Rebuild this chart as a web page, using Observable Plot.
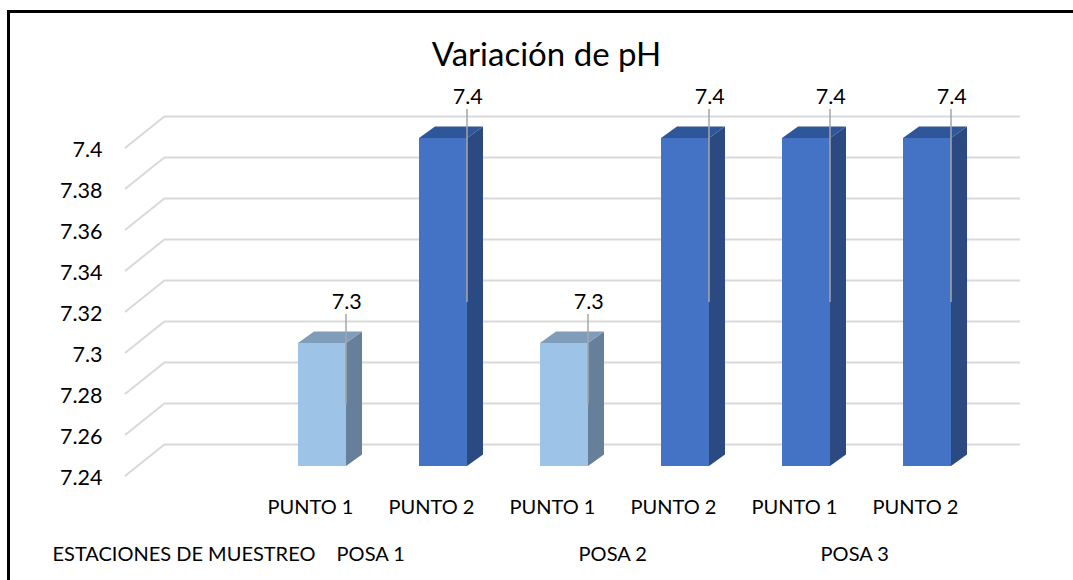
<!DOCTYPE html>
<html>
<head>
<meta charset="utf-8">
<script src="https://cdn.jsdelivr.net/npm/d3@7"></script>
<script src="https://cdn.jsdelivr.net/npm/@observablehq/plot@0.6"></script>
<style>
  html, body { margin: 0; padding: 0; background: #fff; }
  #wrap { position: relative; width: 1073px; height: 580px; overflow: hidden; background: #fff; }
  #border { position: absolute; left: 7px; top: 10px; right: -10px; bottom: -10px;
            border-left: 3px solid #000; border-top: 3px solid #000; pointer-events: none; }
  #chart svg { display: block; }
</style>
</head>
<body>
<div id="wrap">
  <div id="chart"></div>
  <div id="border"></div>
</div>
<script>
// ---------- data ----------
const title = "Variación de pH";
const axisTitle = "ESTACIONES DE MUESTREO";
const stations = ["POSA 1", "POSA 1", "POSA 2", "POSA 2", "POSA 3", "POSA 3"];
const points = ["PUNTO 1", "PUNTO 2", "PUNTO 1", "PUNTO 2", "PUNTO 1", "PUNTO 2"];
const phValues = [7.3, 7.4, 7.3, 7.4, 7.4, 7.4];
const groupLabels = ["POSA 1", "POSA 2", "POSA 3"];
const yTicks = [7.24, 7.26, 7.28, 7.30, 7.32, 7.34, 7.36, 7.38, 7.40];
const yTickLabels = ["7.24", "7.26", "7.28", "7.3", "7.32", "7.34", "7.36", "7.38", "7.4"];
const yDomain = [7.24, 7.4];

// ---------- table built from the arrays ----------
const keys = stations.map((s, i) => s + " · " + points[i]);
const bars = keys.map((k, i) => ({key: k, station: stations[i], point: points[i], value: phValues[i]}));
const groups = groupLabels.map(g => ({label: g, keys: keys.filter((k, i) => stations[i] === g)}));

// ---------- layout / style ----------
const W = 1073, H = 580;
const mL = 165, mR = 53, mT = 116, mB = 136;
const xRange = [235.2, 1013.4], padIn = 0.6, padOut = 0.5;
const step = (xRange[1] - xRange[0]) / (keys.length - padIn + 2 * padOut);
const bwidth = step * (1 - padIn);
const FRONT = 22;          // bar front plane offset below back wall (px)
const DX = 16, DY = 11.5;  // bar depth
const FLOOR_DX = 40, FLOOR_DY = 32; // wall depth
const light = {front: "#9dc3e6", side: "#667f9a", top: "#7f9cba"};
const dark = {front: "#4472c4", side: "#2c4a82", top: "#30569a"};
const pal = v => v < 7.35 ? light : dark;
const grid = "#d9d9d9";
const numSize = 21.5, textSize = 20, titleSize = 33;

function bw(x) { return typeof x.bandwidth === "function" ? x.bandwidth() : (x.bandwidth || 0); }

// diagonal side-wall lines
function sideWall(index, scales, values, dims) {
  const y = scales.y;
  const g = d3.create("svg:g").attr("stroke", grid).attr("stroke-width", 2).attr("fill", "none");
  yTicks.forEach(t => {
    g.append("line")
      .attr("x1", dims.marginLeft - FLOOR_DX).attr("y1", y(t) + FLOOR_DY)
      .attr("x2", dims.marginLeft).attr("y2", y(t));
  });
  return g.node();
}

// side and top faces of the 3D bars
function barFaces(index, scales) {
  const {x, y} = scales;
  const b = bw(x);
  const g = d3.create("svg:g");
  bars.forEach(d => {
    const xl = x(d.key), xr = xl + b;
    const yt = y(d.value) + FRONT, yb = y(yDomain[0]) + FRONT;
    const p = pal(d.value);
    g.append("path")
      .attr("d", `M${xr},${yt}L${xr + DX},${yt - DY}L${xr + DX},${yb - DY}L${xr},${yb}Z`)
      .attr("fill", p.side);
    g.append("path")
      .attr("d", `M${xl},${yt}L${xl + DX},${yt - DY}L${xr + DX},${yt - DY}L${xr},${yt}Z`)
      .attr("fill", p.top);
  });
  return g.node();
}

// leader lines from data labels into the bars
function leaders(index, scales) {
  const {x, y} = scales;
  const b = bw(x);
  const g = d3.create("svg:g").attr("stroke", "#a6a6a6").attr("stroke-width", 1.5);
  bars.forEach(d => {
    const xr = x(d.key) + b;
    const mid = (y(d.value) + y(yDomain[0])) / 2 + FRONT;
    g.append("line").attr("x1", xr).attr("x2", xr)
      .attr("y1", y(d.value) - 7).attr("y2", mid);
  });
  return g.node();
}

const chart = Plot.plot({
  width: W, height: H,
  marginLeft: mL, marginRight: mR, marginTop: mT, marginBottom: mB,
  style: {fontFamily: "Lato, 'Open Sans', sans-serif", fontSize: "20px", color: "#000", background: "transparent"},
  x: {type: "band", domain: keys, range: xRange, paddingInner: padIn, paddingOuter: padOut, axis: null},
  y: {domain: yDomain, axis: null},
  color: {type: "ordinal", domain: [7.3, 7.4], range: [light.front, dark.front]},
  marks: [
    Plot.ruleY(yTicks, {stroke: grid, strokeWidth: 2}),
    sideWall,
    Plot.barY(bars, {x: "key", y1: () => yDomain[0], y2: "value", fill: d => d.value, dy: FRONT}),
    barFaces,
    leaders,
    Plot.text(bars, {x: "key", y: "value", text: d => d.value.toFixed(1), dx: bwidth / 2, dy: -19, fontSize: numSize, lineAnchor: "middle"}),
    Plot.text(yTicks, {y: d => d, text: (d, i) => yTickLabels[i], frameAnchor: "left", textAnchor: "end", dx: -63, dy: 34, fontSize: numSize, lineAnchor: "middle"}),
    Plot.text(bars, {x: "key", text: "point", frameAnchor: "bottom", dx: -12, dy: 63, fontSize: textSize, lineAnchor: "middle"}),
    Plot.text(groups, {x: d => d.keys[1], text: "label", frameAnchor: "bottom", dx: -step / 2 - 12, dy: 110, fontSize: textSize, lineAnchor: "middle"}),
    Plot.text([axisTitle], {frameAnchor: "bottom-left", textAnchor: "start", dx: 52 - mL, dy: 110, fontSize: textSize, lineAnchor: "middle"}),
    Plot.text([title], {frameAnchor: "top", dx: 546 - (mL + (W - mR)) / 2, dy: -61, fontSize: titleSize, lineAnchor: "middle"})
  ]
});
document.getElementById("chart").appendChild(chart);
</script>
</body>
</html>
